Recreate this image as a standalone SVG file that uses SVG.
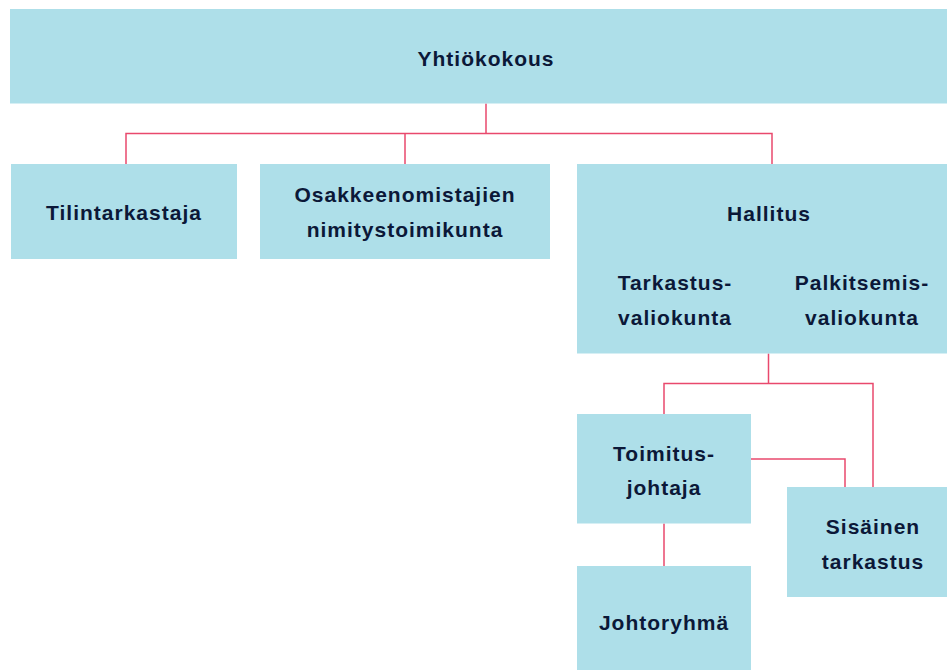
<svg xmlns="http://www.w3.org/2000/svg" width="947" height="670" viewBox="0 0 947 670">
<style>
.box{fill:#aedfe9}
.lbl{font-family:"Liberation Sans",Arial,sans-serif;font-weight:700;font-size:21px;letter-spacing:1px;fill:#0b1838;text-anchor:middle}
.con{fill:none;stroke:#e9496d;stroke-width:1.5}
</style>
<rect width="947" height="670" fill="#ffffff"/>
<g id="connectors">
<path class="con" d="M486,103.5V133.5M126,164V133.5H772V164"/>
<path class="con" d="M405,133.5V164"/>
<path class="con" d="M768.5,353.5V383.5M664,414V383.5H873V487"/>
<path class="con" d="M751,459H845V487"/>
<path class="con" d="M664,523.5V566"/>
</g>
<g id="yhtiokokous">
<rect class="box" x="10" y="9" width="937" height="94.5"/>
<text class="lbl" x="486" y="66">Yhtiökokous</text>
</g>
<g id="tilintarkastaja">
<rect class="box" x="11" y="164" width="226" height="95"/>
<text class="lbl" x="124" y="220">Tilintarkastaja</text>
</g>
<g id="nimitystoimikunta">
<rect class="box" x="260" y="164" width="290" height="95"/>
<text class="lbl" x="405" y="202">Osakkeenomistajien</text>
<text class="lbl" x="405" y="237">nimitystoimikunta</text>
</g>
<g id="hallitus">
<rect class="box" x="577" y="164" width="370" height="189.5"/>
<text class="lbl" x="769" y="221">Hallitus</text>
<text class="lbl" x="675" y="290">Tarkastus-</text>
<text class="lbl" x="675" y="325">valiokunta</text>
<text class="lbl" x="862" y="290">Palkitsemis-</text>
<text class="lbl" x="862" y="325">valiokunta</text>
</g>
<g id="toimitusjohtaja">
<rect class="box" x="577" y="414" width="174" height="109.5"/>
<text class="lbl" x="664" y="461">Toimitus-</text>
<text class="lbl" x="664" y="495">johtaja</text>
</g>
<g id="sisainen-tarkastus">
<rect class="box" x="787" y="487" width="160" height="110"/>
<text class="lbl" x="873" y="534">Sisäinen</text>
<text class="lbl" x="873" y="569">tarkastus</text>
</g>
<g id="johtoryhma">
<rect class="box" x="577" y="566" width="174" height="104"/>
<text class="lbl" x="664" y="630">Johtoryhmä</text>
</g>
</svg>
